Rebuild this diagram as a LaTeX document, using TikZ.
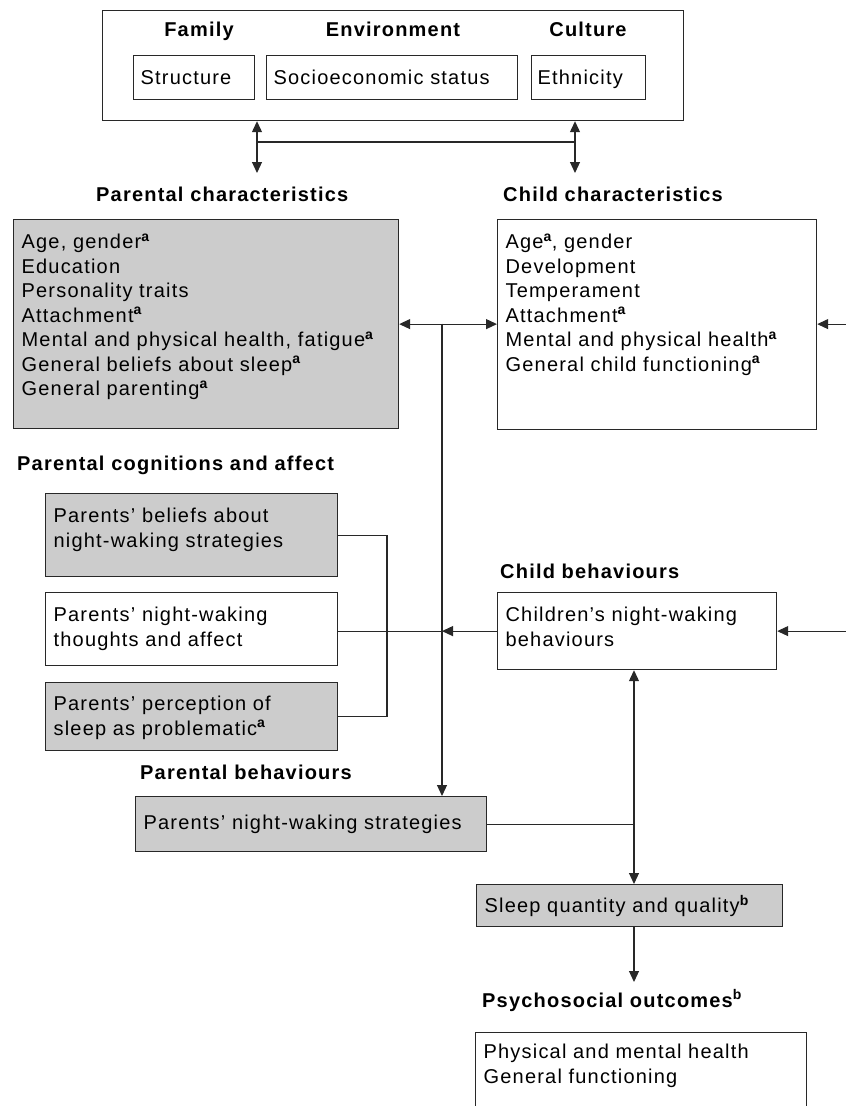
\documentclass[tikz,border=0pt]{standalone}
\usepackage{fontspec}
\setmainfont{Liberation Sans}[LetterSpace=6]
\usetikzlibrary{arrows.meta}
\definecolor{boxgray}{RGB}{204,204,204}
\definecolor{ink}{RGB}{40,40,40}
\newcommand{\fna}{\textsuperscript{\bfseries a}}
\newcommand{\fnb}{\textsuperscript{\bfseries b}}

\begin{document}
\begin{tikzpicture}[x=1pt,y=-1pt,font=\fontsize{20}{24.5}\selectfont,
 box/.style={draw=ink,line width=1.2pt,anchor=north west,align=left,inner xsep=8pt,inner ysep=0pt,text height=29pt},
 sz/.style 2 args={text width={#1pt-16pt},text depth={#2pt-29pt}},
 grey/.style={fill=boxgray},
 head/.style={font=\fontsize{20}{24.5}\selectfont\bfseries,anchor=base west,inner sep=0pt},
 ln/.style={draw=ink,line width=1.2pt},
 a/.style={ln,-{Triangle[length=11pt,width=10pt]}},
 aa/.style={ln,{Triangle[length=11pt,width=10pt]}-{Triangle[length=11pt,width=10pt]}}]
\useasboundingbox (0,0) rectangle (846,1106);
\clip (0,0) rectangle (846,1106);
% context box
\node[draw=ink,line width=1.2pt,anchor=north west,minimum width=581pt,minimum height=110pt,inner sep=0pt] (ctx) at (102,10) {};
\node[head,anchor=base] (fam) at (199,36) {Family};
\node[head,anchor=base] (env) at (393,36) {Environment};
\node[head,anchor=base] (cul) at (588,36) {Culture};
\node[box,sz={123}{44},inner xsep=7pt] (str) at (133,55) {Structure};
\node[box,sz={253}{44},inner xsep=7pt] (ses) at (266,55) {Socioeconomic status};
\node[box,sz={118}{44},inner xsep=6pt] (eth) at (531,55) {Ethnicity};
% characteristics
\node[head] (pchh) at (96,201) {Parental characteristics};
\node[head] (cchh) at (503,201) {Child characteristics};
\node[box,grey,sz={385}{209}] (pch) at (13,219) {Age, gender\fna\\Education\\Personality traits\\Attachment\fna\\Mental and physical health, fatigue\fna\\General beliefs about sleep\fna\\General parenting\fna};
\node[box,sz={319}{210}] (cch) at (497,219) {Age\fna, gender\\Development\\Temperament\\Attachment\fna\\Mental and physical health\fna\\General child functioning\fna};
% cognitions and behaviours
\node[head] (cogh) at (17,470) {Parental cognitions and affect};
\node[box,grey,sz={292}{83}] (bel) at (45,493) {Parents' beliefs about\\night-waking strategies};
\node[box,sz={292}{73}] (thk) at (45,592) {Parents' night-waking\\thoughts and affect};
\node[box,grey,sz={292}{68},text height=28pt,text depth=40pt] (perc) at (45,682) {Parents' perception of\\sleep as problematic\fna};
\node[head] (cbehh) at (500,578) {Child behaviours};
\node[box,sz={279}{77}] (cbeh) at (497,592) {Children's night-waking\\behaviours};
\node[head] (pbehh) at (140,779) {Parental behaviours};
\node[box,grey,sz={351}{55},text height=33pt,text depth=22pt] (pbeh) at (135,796) {Parents' night-waking strategies};
% outcomes
\node[box,grey,sz={306}{42},text height=28pt,text depth=14pt] (slp) at (476,884) {Sleep quantity and quality\fnb};
\node[head] (outh) at (482,1007) {Psychosocial outcomes\fnb};
\node[box,sz={331}{120},text height=26pt,text depth=94pt] (out) at (475,1032) {Physical and mental health\\General functioning};
% connectors
\coordinate (jl) at (257,142);
\coordinate (jr) at (575,142);
\coordinate (pdn) at (257,173);
\coordinate (cdn) at (575,173);
\coordinate (vx) at (442,323.5);
\coordinate (rin) at (846,0);
\coordinate (brk) at (387,600);
\coordinate (sx) at (634,0);
\coordinate (odn) at (634,982);
\draw[aa] (ctx.south -| jl) -- (pdn);
\draw[aa] (ctx.south -| jr) -- (cdn);
\draw[ln] (jl) -- (jr);
\draw[aa] (pch.east) -- (pch.east -| cch.west);
\draw[a] (vx) -- (vx |- pbeh.north);
\draw[a] (pch.east -| rin) -- (pch.east -| cch.east);
\draw[a] (cbeh.east -| rin) -- (cbeh.east);
\draw[a] (cbeh.west) -- (vx |- cbeh.west);
\draw[ln] (vx |- cbeh.west) -- (thk.east |- cbeh.west);
\draw[ln] (bel.east) -- (bel.east -| brk) -- (perc.east -| brk) -- (perc.east);
\draw[aa] (cbeh.south -| sx) -- (slp.north -| sx);
\draw[ln] (pbeh.east) -- (pbeh.east -| sx);
\draw[a] (slp.south -| sx) -- (odn);
\end{tikzpicture}
\end{document}
